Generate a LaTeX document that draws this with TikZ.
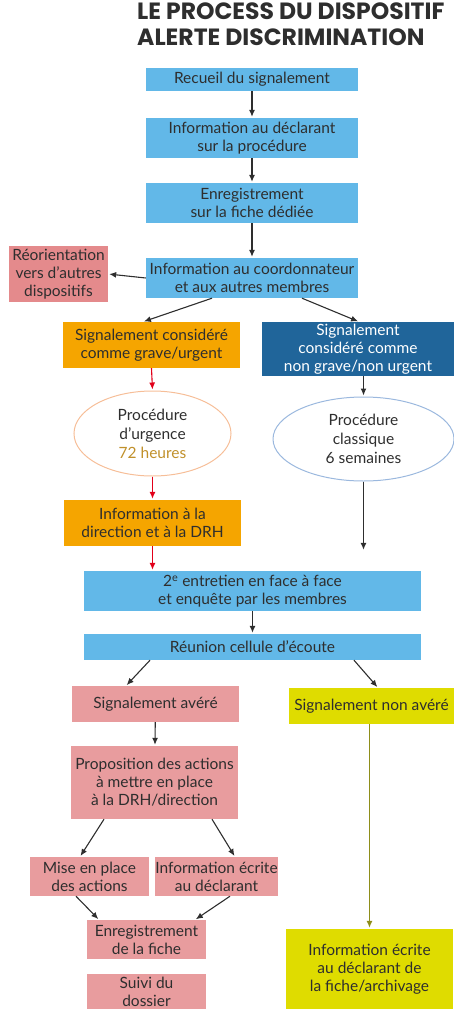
\documentclass[tikz,border=0pt]{standalone}
\usepackage{fontspec}
\setmainfont{Lato}
\newfontfamily\titlefont{Poppins}
\usetikzlibrary{arrows.meta,shapes.geometric,calc}
\definecolor{lblue}{HTML}{62B8E8}
\definecolor{pinkb}{HTML}{E89C9E}
\definecolor{pinkr}{HTML}{E48A8C}
\definecolor{orangeb}{HTML}{F5A500}
\definecolor{dblue}{HTML}{20659A}
\definecolor{yellowb}{HTML}{DFDC00}
\definecolor{txt}{HTML}{2E2E2E}
\definecolor{eorange}{HTML}{F6BE98}
\definecolor{eblue}{HTML}{9BB8DE}
\definecolor{redarr}{HTML}{E2001A}
\definecolor{olive}{HTML}{8E8E1A}
\definecolor{gold}{HTML}{C0902A}
\tikzset{
  box/.style={rectangle, inner sep=0pt, align=center, text=txt, font=\fontsize{15.5}{18}\selectfont},
  ell/.style={ellipse, inner sep=0pt, align=center, text=txt, line width=1pt, font=\fontsize{15.5}{19}\selectfont},
  arr/.style={-{Latex[length=7pt,width=6pt]}, line width=1.1pt, draw=txt, shorten >=1pt},
  rarr/.style={arr, draw=redarr},
  oarr/.style={arr, draw=olive}
}
\begin{document}
\begin{tikzpicture}[x=1pt,y=-1pt]
\useasboundingbox (0,0) rectangle (454,1009);
\node[anchor=north west, inner sep=0pt, align=left, text=txt, font=\titlefont\bfseries\fontsize{23.5}{26}\selectfont] (title) at (137,3) {LE PROCESS DU DISPOSITIF\\ALERTE DISCRIMINATION};

\node[box, fill=lblue, minimum width=212pt, minimum height=23pt] (r1) at (252,79.5) {Recueil du signalement};
\node[box, fill=lblue, minimum width=212pt, minimum height=40pt] (r2) at (252,138) {Information au déclarant\\sur la procédure};
\node[box, fill=lblue, minimum width=212pt, minimum height=40pt] (r3) at (252,203) {Enregistrement\\sur la fiche dédiée};
\node[box, fill=lblue, minimum width=212pt, minimum height=40pt] (r4) at (252,278) {Information au coordonnateur\\et aux autres membres};
\node[box, fill=pinkr, minimum width=99pt, minimum height=56pt] (reo) at (58.5,274) {Réorientation\\vers d’autres\\dispositifs};
\node[box, fill=orangeb, minimum width=177pt, minimum height=46pt] (urg) at (151.5,345) {Signalement considéré\\comme grave/urgent};
\node[box, fill=dblue, text=white, minimum width=192pt, minimum height=54pt] (nong) at (358,349) {Signalement\\considéré comme\\non grave/non urgent};
\node[ell, draw=eorange, minimum width=157pt, minimum height=85pt] (e1) at (152.5,433.5) {Procédure\\d’urgence\\\textcolor{gold}{72 heures}};
\node[ell, draw=eblue, minimum width=181pt, minimum height=84pt] (e2) at (363.5,439) {Procédure\\classique\\6 semaines};
\node[box, fill=orangeb, minimum width=177pt, minimum height=46pt] (dir) at (152.5,523) {Information à la\\direction et à la DRH};
\node[box, fill=lblue, minimum width=337pt, minimum height=40pt] (ent) at (252.5,591) {2\textsuperscript{e} entretien en face à face\\et enquête par les membres};
\node[box, fill=lblue, minimum width=337pt, minimum height=26pt] (reu) at (252.5,647) {Réunion cellule d’écoute};
\node[box, fill=pinkb, minimum width=167pt, minimum height=36pt] (av) at (155.5,704) {Signalement avéré};
\node[box, fill=yellowb, minimum width=165pt, minimum height=36pt] (nav) at (371.5,706) {Signalement non avéré};
\node[box, fill=pinkb, minimum width=167pt, minimum height=73pt] (prop) at (154.5,782.5) {Proposition des actions\\à mettre en place\\à la DRH/direction};
\node[box, fill=pinkb, minimum width=119pt, minimum height=39pt] (mise) at (89.5,876.5) {Mise en place\\des actions};
\node[box, fill=pinkb, minimum width=119pt, minimum height=39pt] (infe) at (216.5,876.5) {Information écrite\\au déclarant};
\node[box, fill=pinkb, minimum width=119pt, minimum height=39pt] (enr) at (146.5,939.5) {Enregistrement\\de la fiche};
\node[box, fill=pinkb, minimum width=119pt, minimum height=35pt] (suivi) at (146.5,991.5) {Suivi du\\dossier};
\node[box, fill=yellowb, minimum width=167pt, minimum height=80pt] (fin) at (369.5,969) {Information écrite\\au déclarant de\\la fiche/archivage};

\draw[arr] (r1) -- (r2);
\draw[arr] (r2) -- (r3);
\draw[arr] (r3) -- (r4);
\draw[arr] (r4.west) -- (reo.east -| reo.east);
\draw[arr] ([xshift=-40pt]r4.south) -- ([xshift=-8.5pt]urg.north);
\draw[arr] ([xshift=50pt]r4.south) -- ([xshift=1pt]nong.north);
\draw[rarr] (urg.south) -- (e1.north);
\draw[arr] (nong.south -| e2.north) -- (e2.north);
\draw[rarr] (e1.south) -- (dir.north);
\draw[rarr] (dir.south) -- (dir.south |- ent.north);
\draw[arr, shorten >=21pt] (e2.south) -- (e2.south |- ent.north);
\draw[arr] (ent) -- (reu);
\draw[arr] ([xshift=-102.5pt]reu.south) -- ([xshift=-29.5pt]av.north);
\draw[arr] ([xshift=101.5pt]reu.south) -- ([xshift=6.5pt]nav.north);
\draw[arr] (av) -- (prop);
\draw[arr] ([xshift=-50.5pt]prop.south) -- ([xshift=-9.5pt]mise.north);
\draw[arr] ([xshift=57.5pt]prop.south) -- ([xshift=18.5pt]infe.north);
\draw[arr] ([xshift=-13.5pt]mise.south) -- ([xshift=-47.5pt]enr.north);
\draw[arr] ([xshift=13.5pt]infe.south) -- ([xshift=48.5pt]enr.north);
\draw[oarr] (fin.north |- nav.south) -- (fin.north);
\end{tikzpicture}
\end{document}
